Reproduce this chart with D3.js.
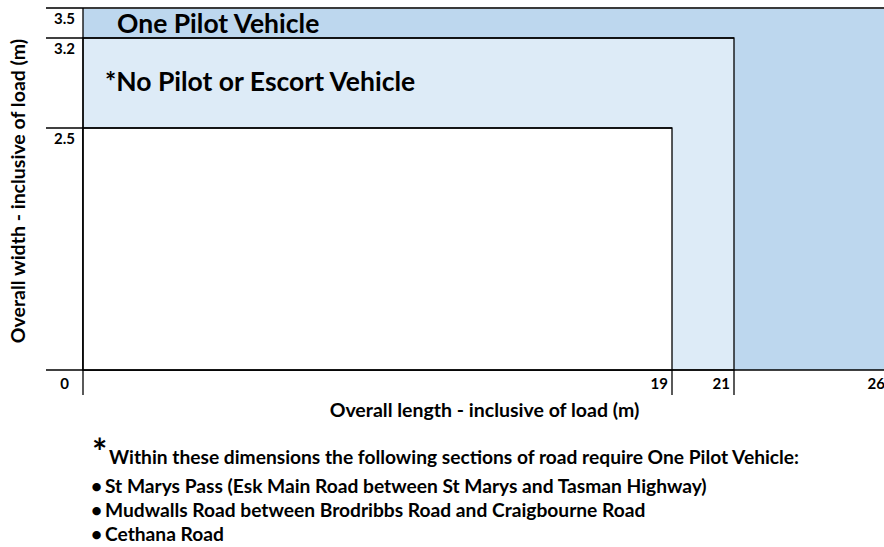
<!DOCTYPE html>
<html><head><meta charset="utf-8">
<script src="https://cdn.jsdelivr.net/npm/d3@7"></script>
<style>
body{margin:0;background:#fff}
svg{display:block}
text{font-family:Lato,"Open Sans",sans-serif;font-weight:bold;fill:#000}
</style>
</head><body>
<svg id="chart" width="884" height="547"></svg>
<script>
// ---- data ----
const zoneLabels = ["One Pilot Vehicle", "*No Pilot or Escort Vehicle", ""];
const zoneLengths = [26, 21, 19];
const zoneWidths = [3.5, 3.2, 2.5];
const zoneColors = ["#BDD7EE", "#DDEBF7", "#FFFFFF"];
const xTickValues = [19, 21, 26];
const yTickValues = [0, 2.5, 3.2, 3.5];
const xTitle = "Overall length - inclusive of load (m)";
const yTitle = "Overall width - inclusive of load (m)";
const noteHeader = "Within these dimensions the following sections of road require One Pilot Vehicle:";
const noteItems = [
  "St Marys Pass (Esk Main Road between St Marys and Tasman Highway)",
  "Mudwalls Road between Brodribbs Road and Craigbourne Road",
  "Cethana Road"
];

// ---- layout ----
const W = 884, H = 547;
const svg = d3.select("#chart");
const x = d3.scaleLinear().domain([0, 26]).range([83, 889]);
// the reference uses an uneven vertical scale
const y = d3.scaleLinear().domain([0, 2.5, 3.2, 3.5]).range([370, 128, 38, 8]);
const leftExt = 46, bottomExt = 395;

// zones
svg.selectAll("rect.zone").data(zoneLengths).join("rect")
  .attr("class", "zone")
  .attr("x", x(0))
  .attr("y", (d, i) => y(zoneWidths[i]))
  .attr("width", d => x(d) - x(0))
  .attr("height", (d, i) => y(0) - y(zoneWidths[i]))
  .attr("fill", (d, i) => zoneColors[i])
  .attr("stroke", (d, i) => i === 0 ? "none" : "#000")
  .attr("stroke-width", 1.3);

// horizontal lines at each width tick (extending left as ticks)
const hRight = v => {
  if (v === 0) return W;
  const i = zoneWidths.indexOf(v);
  return i === 0 ? W : x(zoneLengths[i]);
};
svg.selectAll("line.h").data(yTickValues).join("line")
  .attr("class", "h")
  .attr("x1", leftExt).attr("x2", d => hRight(d))
  .attr("y1", d => y(d)).attr("y2", d => y(d))
  .attr("stroke", (d) => d === 3.5 ? "#3a3a3a" : "#000")
  .attr("stroke-width", d => d === 3.5 ? 1.8 : 1.3);

// vertical tick lines below the base line
svg.selectAll("line.v").data([0].concat(xTickValues)).join("line")
  .attr("class", "v")
  .attr("x1", d => x(d)).attr("x2", d => x(d))
  .attr("y1", d => d === 0 ? y(3.5) : y(0)).attr("y2", bottomExt)
  .attr("stroke", "#000").attr("stroke-width", 1.3);

// y tick labels
svg.selectAll("text.yl").data(yTickValues).join("text")
  .attr("class", "yl")
  .attr("x", (leftExt + x(0)) / 2)
  .attr("y", d => d === 0 ? 389 : y(d) + 16)
  .attr("text-anchor", "middle")
  .attr("font-size", 15)
  .text(d => d);

// x tick labels
svg.selectAll("text.xl").data(xTickValues).join("text")
  .attr("class", "xl")
  .attr("x", d => x(d) - 4)
  .attr("y", 389)
  .attr("text-anchor", "end")
  .attr("font-size", 15)
  .text(d => d);

// zone labels
svg.append("text").attr("x", 117).attr("y", 33).attr("font-size", 26.5).text(zoneLabels[0]);
svg.append("text").attr("x", 105).attr("y", 91).attr("font-size", 26.5).text(zoneLabels[1]);

// axis titles
svg.append("text").attr("x", 484.5).attr("y", 417).attr("text-anchor", "middle")
  .attr("font-size", 19.5).text(xTitle);
svg.append("text").attr("transform", "translate(25,191) rotate(-90)").attr("text-anchor", "middle")
  .attr("font-size", 19.5).text(yTitle);

// footnote
svg.append("text").attr("x", 92).attr("y", 465).attr("font-size", 36).text("*");
svg.append("text").attr("x", 109).attr("y", 464).attr("font-size", 19.2).text(noteHeader);
const notes = svg.selectAll("g.note").data(noteItems).join("g")
  .attr("class", "note")
  .attr("transform", (d, i) => `translate(0,${493 + i * 24})`);
notes.append("text").attr("x", 91).attr("font-size", 19.2).text("\u2022");
notes.append("text").attr("x", 105).attr("font-size", 19.2).text(d => d);
</script>
</body></html>
